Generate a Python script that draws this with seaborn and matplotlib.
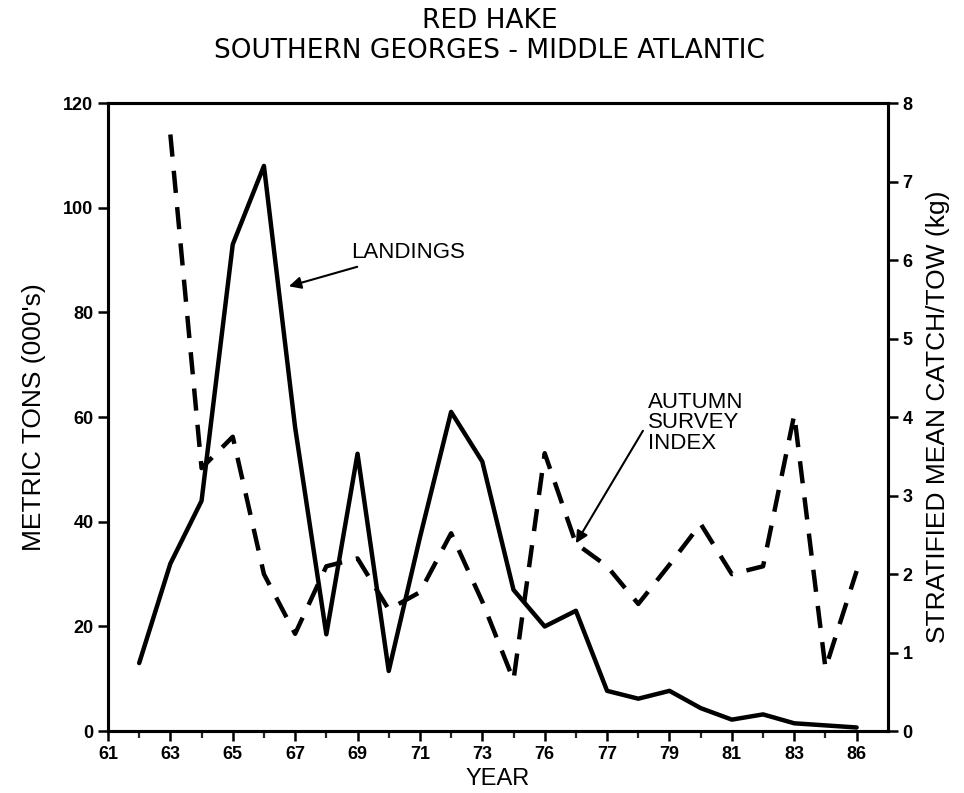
import matplotlib
matplotlib.use("Agg")
import matplotlib.pyplot as plt
import seaborn as sns
import pandas as pd
from matplotlib.ticker import FixedLocator

# landings (000's metric tons), 1962-1985
land_years = list(range(62, 86))
landings = [13, 32, 44, 93, 108, 58, 18.5, 53, 11.5, 37, 61, 51.5,
            27, 20, 23, 7.7, 6.2, 7.7, 4.4, 2.2, 3.2, 1.5, 1.1, 0.7]

# autumn survey index, stratified mean catch/tow (kg), 1963-1985
survey_years = list(range(63, 86))
survey = [7.6, 3.35, 3.75, 2.0, 1.24, 2.1, 2.2, 1.55, 1.77, 2.52, 1.65, 0.65,
          3.54, 2.39, 2.1, 1.62, 2.12, 2.64, 2.0, 2.1, 4.03, 0.8, 2.04]

tick_pos = [61, 63, 65, 67, 69, 71, 73, 75, 77, 79, 81, 83, 85]
tick_labels = ["61", "63", "65", "67", "69", "71", "73", "76", "77", "79", "81", "83", "86"]

sns.set_theme(style="ticks")
plt.rcParams['font.family'] = ['Liberation Sans', 'DejaVu Sans']
plt.rcParams['text.color'] = 'black'
plt.rcParams['axes.labelcolor'] = 'black'

land_df = pd.DataFrame({"year": land_years, "landings": landings})
surv_df = pd.DataFrame({"year": survey_years, "survey": survey})

fig = plt.figure(figsize=(9.64, 7.93), dpi=100)
ax = fig.add_axes([0.112, 0.078, 0.809, 0.792])
ax2 = ax.twinx()

sns.lineplot(data=land_df, x="year", y="landings", ax=ax, color="black", linewidth=3.2)
sns.lineplot(data=surv_df, x="year", y="survey", ax=ax2, color="black", linewidth=3.2)
ax2.lines[0].set_dashes([5, 3.2])

ax.set_xlim(61, 86)
ax.set_ylim(0, 120)
ax2.set_ylim(0, 8)
ax.set_yticks(range(0, 121, 20))
ax2.set_yticks(range(0, 9))
ax.xaxis.set_major_locator(FixedLocator(tick_pos))
ax.set_xticklabels(tick_labels)
ax.xaxis.set_minor_locator(FixedLocator(list(range(62, 86, 2))))

for a in (ax, ax2):
    for s in a.spines.values():
        s.set_linewidth(2.2)
        s.set_color("black")
    a.tick_params(which="major", length=7, width=1.8, labelsize=13, colors="black")
    a.tick_params(which="minor", length=5, width=1.6)
    for lab in a.get_xticklabels() + a.get_yticklabels():
        lab.set_fontweight("bold")

ax.set_xlabel("YEAR", fontsize=17, labelpad=4)
ax.set_ylabel("METRIC TONS (000's)", fontsize=19, labelpad=12)
ax2.set_ylabel("STRATIFIED MEAN CATCH/TOW (kg)", fontsize=19, labelpad=10)

fig.text(0.508, 0.99, "RED HAKE", ha="center", va="top", fontsize=19,
         family=["Liberation Sans Narrow", "DejaVu Sans"])
fig.text(0.508, 0.952, "SOUTHERN GEORGES - MIDDLE ATLANTIC", ha="center", va="top", fontsize=19,
         family=["Liberation Sans Narrow", "DejaVu Sans"])

ax.annotate("LANDINGS", xy=(66.8, 85), xytext=(68.8, 91.5), fontsize=16,
            va="center", ha="left",
            arrowprops=dict(arrowstyle="-|>", color="black", lw=1.5, mutation_scale=18,
                            shrinkA=2, shrinkB=0))
ax.annotate("AUTUMN\nSURVEY\nINDEX", xy=(76.0, 35.9), xytext=(78.3, 58.9), fontsize=16,
            va="center", ha="left", linespacing=0.95,
            arrowprops=dict(arrowstyle="-|>", color="black", lw=1.5, mutation_scale=18,
                            shrinkA=2, shrinkB=0, relpos=(0, 0.5)))

fig.savefig("out.png", dpi=100)
